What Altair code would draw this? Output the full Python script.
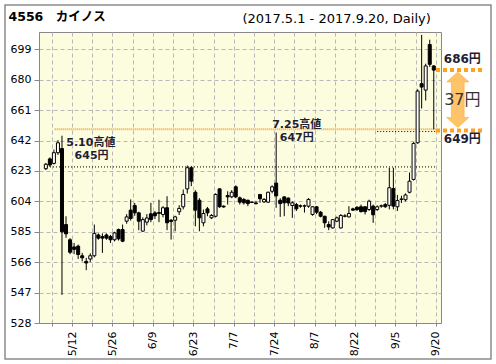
import altair as alt
import pandas as pd

FONT = "DejaVu Sans, Noto Sans CJK JP"

# daily OHLC, trading day index 0 = 2017-05-01 ... 96 = 2017-09-20
opens = [624.4, 630.5, 627.7, 634.4, 637.0, 589.5, 580.0, 575.5, 576.0, 570.0,
         566.5, 568.0, 570.0, 583.0, 582.0, 583.0, 582.0, 580.0, 586.4, 586.4,
         591.6, 598.5, 601.4, 596.8, 585.4, 591.0, 596.2, 596.8, 597.0, 595.8,
         600.0, 592.2, 592.2, 597.5, 600.6, 611.8, 625.0, 609.7, 604.7, 590.6,
         599.3, 593.7, 594.7, 611.8, 601.0, 607.6, 606.8, 613.1, 606.2, 605.2,
         604.7, 603.5, 603.0, 608.3, 603.7, 603.5, 610.3, 615.4, 604.7, 606.8,
         606.0, 601.4, 602.0, 601.2, 601.0, 601.0, 595.8, 600.6, 597.2, 594.7,
         589.5, 587.4, 591.6, 587.4, 594.7, 594.3, 599.3, 600.3, 600.6, 600.6,
         598.9, 601.0, 598.9, 601.0, 602.0, 601.5, 612.0, 600.6, 605.2, 605.0,
         609.7, 617.7, 640.6, 677.5, 673.5, 702.0, 688.6]
highs = [628.0, 631.5, 636.4, 642.3, 645.0, 594.7, 581.0, 578.0, 577.0, 571.8,
         568.7, 571.5, 589.5, 584.0, 584.0, 584.0, 583.0, 585.0, 587.0, 589.5,
         596.0, 605.2, 603.0, 597.5, 594.0, 596.0, 603.1, 598.0, 605.0, 601.0,
         607.2, 593.0, 595.0, 601.6, 611.4, 626.4, 626.0, 611.0, 606.0, 598.9,
         600.5, 596.0, 609.0, 612.0, 601.5, 610.3, 611.0, 614.0, 607.0, 606.0,
         605.0, 604.0, 604.3, 608.5, 606.0, 610.0, 614.0, 647.0, 606.0, 607.0,
         606.5, 604.0, 603.0, 602.0, 602.0, 606.0, 601.0, 601.0, 598.0, 595.0,
         591.5, 593.0, 594.5, 596.0, 596.0, 601.0, 600.0, 601.0, 602.0, 601.0,
         605.0, 602.0, 601.5, 602.0, 603.0, 625.0, 625.0, 608.0, 607.5, 609.0,
         622.0, 641.0, 674.0, 708.0, 690.0, 705.0, 689.0]
lows = [623.5, 625.5, 627.0, 633.0, 545.6, 581.2, 571.0, 571.0, 568.0, 566.5,
        561.0, 566.0, 569.0, 580.0, 571.8, 580.0, 578.0, 579.0, 579.5, 578.5,
        590.0, 592.0, 595.0, 586.0, 585.0, 589.0, 591.0, 593.0, 591.0, 594.0,
        586.0, 580.1, 585.3, 595.5, 599.0, 608.9, 613.5, 588.4, 585.3, 588.4,
        594.7, 593.0, 594.0, 600.0, 600.0, 602.0, 606.0, 606.0, 602.0, 602.0,
        601.0, 603.0, 602.0, 603.1, 603.0, 603.0, 609.0, 600.0, 594.3, 594.7,
        601.0, 593.7, 598.0, 600.0, 597.0, 600.0, 595.0, 596.0, 594.0, 587.5,
        586.0, 587.0, 591.0, 587.0, 594.0, 594.0, 598.0, 598.0, 597.0, 595.8,
        598.0, 590.6, 598.0, 600.0, 600.0, 599.0, 599.0, 598.0, 603.0, 604.0,
        609.0, 617.0, 640.0, 662.0, 667.0, 688.0, 649.0]
closes = [627.2, 626.7, 634.4, 640.6, 585.0, 583.7, 572.2, 574.0, 570.8, 568.7,
          565.5, 570.0, 584.0, 581.0, 581.0, 581.0, 580.0, 584.3, 580.6, 579.1,
          594.3, 593.3, 596.8, 591.6, 592.6, 593.6, 592.6, 595.0, 596.5, 600.0,
          590.6, 591.4, 594.3, 599.6, 608.3, 625.0, 616.6, 598.5, 593.7, 596.4,
          596.8, 595.2, 608.3, 600.6, 600.5, 606.8, 609.7, 606.8, 603.5, 603.1,
          602.6, 603.3, 602.6, 605.6, 605.2, 609.7, 613.1, 607.4, 602.6, 603.1,
          603.0, 603.1, 599.3, 601.0, 601.2, 605.2, 600.6, 597.2, 594.7, 590.6,
          588.0, 592.6, 593.7, 595.2, 594.9, 596.4, 598.5, 598.9, 597.6, 597.6,
          604.1, 595.6, 600.6, 601.2, 600.6, 612.5, 601.0, 604.5, 605.5, 608.0,
          616.6, 640.2, 672.9, 675.4, 688.6, 689.6, 686.0]

tick_days = [1, 6, 11, 16, 21, 26, 31, 36, 41, 46, 51, 56, 61, 66, 71, 76, 81, 86, 91, 96]
label_days = [6, 16, 26, 36, 46, 56, 66, 76, 86, 96]
label_text = ["5/12", "5/26", "6/9", "6/23", "7/7", "7/24", "8/7", "8/22", "9/5", "9/20"]
y_ticks = [528, 547, 566, 585, 604, 623, 642, 661, 680, 699]

title_text = "4556\u3000カイノス"
period_text = "(2017.5.1 - 2017.9.20, Daily)"
high1_day, high1_value, high1_label = 4, 645, "5.10高値"
high2_day, high2_value, high2_label = 57, 647, "7.25高値"
range_hi, range_lo = 686, 649
ref_level = 625.5

df = pd.DataFrame({"i": list(range(len(opens))), "o": opens, "h": highs, "l": lows, "c": closes})

xs = alt.Scale(domain=[-0.45, 96.55], nice=False, zero=False)
ys = alt.Scale(domain=[528, 709.8], nice=False, zero=False)

expr = "".join(f"datum.value == {d + 0.5} ? '{t}' : " for d, t in zip(label_days, label_text)) + "''"
xaxis = alt.Axis(values=[d + 0.5 for d in tick_days], labelExpr=expr, labelAngle=270,
                 labelAlign="right", labelBaseline="middle", labelFlush=False, labelOverlap=False,
                 labelFont=FONT, labelFontSize=11, labelColor="black", tickSize=3, labelPadding=5,
                 tickColor="#888888", domainColor="#888888", grid=True, gridDash=[4, 3],
                 gridColor="#b8b8b8", title=None)
yaxis = alt.Axis(values=y_ticks, labelFlush=False, labelOverlap=False, labelFont=FONT, labelFontSize=11,
                 labelColor="black", tickSize=5, labelPadding=3, tickColor="#888888",
                 domainColor="#888888", grid=True, gridDash=[4, 3], gridColor="#b8b8b8", title=None)


def X(f):
    return alt.X(f, type="quantitative", scale=xs, axis=xaxis)


def Y(f):
    return alt.Y(f, type="quantitative", scale=ys, axis=yaxis)


# reference dotted lines
ref_df = pd.DataFrame({"x": [-0.45], "x2": [96.55], "y": [ref_level]})
ref_line = alt.Chart(ref_df).mark_rule(color="black", strokeDash=[1, 2], strokeWidth=1).encode(
    x=X("x"), x2="x2", y=Y("y"))
lo_df = pd.DataFrame({"x": [2.2], "x2": [96.55], "y": [range_lo]})
lo_line = alt.Chart(lo_df).mark_rule(color="#ffa21f", strokeDash=[1, 1], strokeWidth=2).encode(
    x=X("x"), x2="x2", y=Y("y"))
hi2_df = pd.DataFrame({"x": [82], "x2": [96.55], "y": [high2_value + 0.6]})
hi2_line = alt.Chart(hi2_df).mark_rule(color="black", strokeDash=[1, 2], strokeWidth=1).encode(
    x=X("x"), x2="x2", y=Y("y"))

wicks = alt.Chart(df).mark_rule(color="black", strokeWidth=1).encode(x=X("i"), y=Y("l"), y2="h")
bodies = alt.Chart(df).mark_bar(size=3, stroke="black", strokeWidth=1, orient="vertical").encode(
    x=X("i"), y=Y("o"), y2="c",
    fill=alt.condition("datum.c >= datum.o", alt.value("white"), alt.value("black")))


def label(x, y, text, dx, dy, size=11, bold=True, color="#1e1e34", align="left"):
    d = pd.DataFrame({"x": [x], "y": [y], "t": [text]})
    return alt.Chart(d).mark_text(align=align, baseline="alphabetic", dx=dx, dy=dy, font=FONT,
                                  fontSize=size, fontWeight="bold" if bold else "normal",
                                  color=color).encode(x=X("x"), y=Y("y"), text="t:N")


ann = [
    label(high1_day, high1_value, high1_label, 4.3, 10.2),
    label(high1_day, high1_value, f"{high1_value}円", 12.6, 23.2),
    label(high2_day, high2_value, high2_label, -4, -5),
    label(high2_day, high2_value, f"{high2_value}円", 3.6, 8.6),
    label(103.07, range_hi, f"{range_hi}円", 0, -6.8, size=12, align="center"),
    label(103.07, range_lo, f"{range_lo}円", 0, 13.4, size=12, align="center"),
    label(103.07, (range_hi + range_lo) / 2, f"{range_hi - range_lo}円", 0, 5.5, size=16,
          bold=False, color="#333333", align="center"),
]

band_df = pd.DataFrame({"x": [96.55, 96.55], "x2": [108.4, 108.4], "y": [range_hi, range_lo - 0.8]})
band_lines = alt.Chart(band_df).mark_rule(color="#ffa21f", strokeDash=[4, 3], strokeWidth=4).encode(
    x=X("x"), x2="x2", y=Y("y"))

arrow_path = "M0,-1L0.4,-0.64L0.23,-0.64L0.23,0.64L0.4,0.64L0,1L-0.4,0.64L-0.23,0.64L-0.23,-0.64L-0.4,-0.64Z"
arrow_df = pd.DataFrame({"x": [101.94], "y": [(range_hi + range_lo) / 2]})
arrow = alt.Chart(arrow_df).mark_point(shape=arrow_path, size=3090, filled=True, fill="#ffc36a",
                                       opacity=1, stroke="#ffa21f", strokeWidth=0.5).encode(
    x=X("x"), y=Y("y"))

one = pd.DataFrame({"t": [title_text], "p": [period_text]})
frame = alt.Chart(one).mark_rect(fill="transparent", stroke="#8c8c8c", strokeWidth=1.5).encode(
    x=alt.value(-34), x2=alt.value(452), y=alt.value(-27), y2=alt.value(327))
title = alt.Chart(one).mark_text(align="left", baseline="alphabetic", font=FONT, fontSize=12.5,
                                 fontWeight="bold", color="black").encode(
    x=alt.value(-30.5), y=alt.value(-11.5), text="t:N")
period = alt.Chart(one).mark_text(align="left", baseline="alphabetic", font=FONT, fontSize=13,
                                  color="black").encode(
    x=alt.value(203.5), y=alt.value(-9.5), text="p:N")

chart = alt.layer(ref_line, lo_line, hi2_line, wicks, bodies, band_lines, arrow, *ann,
                  frame, title, period).properties(
    width=402, height=291,
    padding={"left": 39, "top": 32, "right": 55, "bottom": 41},
    autosize=alt.AutoSizeParams(type="none"),
    background="white",
).configure_view(stroke="#888888", fill="#fcfcdf")

chart.save("out.html", embed_options={"renderer": "svg", "actions": False})
